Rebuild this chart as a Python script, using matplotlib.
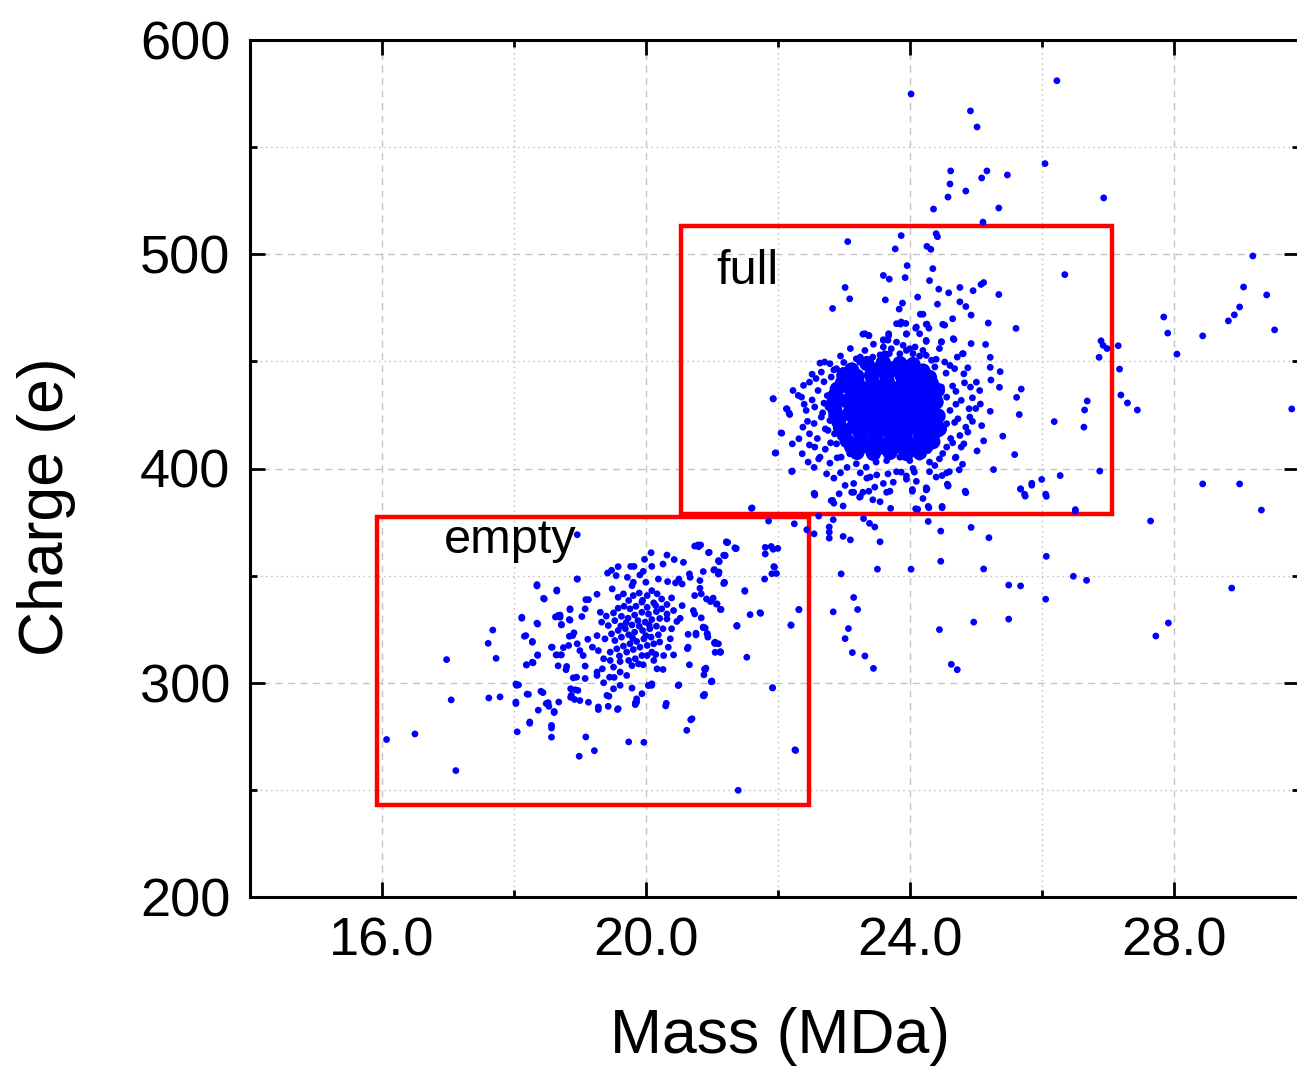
import matplotlib.pyplot as plt
import matplotlib as mpl
import numpy as np
from matplotlib.patches import Rectangle
from matplotlib.ticker import MultipleLocator, FormatStrFormatter

mpl.rcParams.update({
    "font.family": "sans-serif",
    "font.sans-serif": ["Liberation Sans", "DejaVu Sans"],
})

# (mass MDa, charge e)
outlier_pts = [
    (24.02, 574.8), (26.23, 581.0), (24.92, 566.9), (25.02, 559.4), (26.05, 542.3),
    (24.62, 538.9), (25.17, 538.9), (25.09, 535.6), (25.48, 537.0), (24.61, 532.8),
    (24.85, 529.5), (24.58, 526.7), (26.94, 526.3), (24.36, 521.1), (25.35, 521.6),
    (25.11, 515.0),
    (29.20, 499.2), (29.06, 484.7), (29.41, 481.0), (29.00, 475.4), (28.92, 471.7),
    (28.83, 468.9), (29.53, 464.7), (27.85, 470.7), (27.91, 463.2), (28.44, 461.9),
    (28.05, 453.4), (27.18, 446.4), (27.20, 434.3), (27.30, 430.6), (27.45, 427.3),
    (29.79, 427.8), (28.44, 392.8), (29.00, 392.8), (29.33, 380.6), (27.65, 375.5),
    (28.88, 344.2), (27.92, 327.9), (27.73, 321.8),
]

between_pts = [
    (26.51, 380.8), (26.06, 388.0), (25.74, 388.0), (25.68, 390.5), (25.85, 393.1),
    (24.57, 392.7), (24.84, 389.4), (24.25, 391.0), (24.04, 390.2), (24.28, 382.3),
    (24.49, 382.3), (24.09, 381.2), (23.71, 381.4), (24.28, 375.3), (24.47, 370.8),
    (24.93, 372.5), (25.20, 367.7), (23.55, 365.8), (23.47, 372.7), (23.39, 374.4),
    (23.30, 376.6), (23.10, 366.7), (22.99, 368.3), (22.78, 367.5), (22.78, 370.3),
    (22.78, 372.7), (22.84, 376.1), (22.62, 377.8), (22.55, 369.5), (22.44, 371.4),
    (22.25, 374.2), (21.86, 375.5), (21.61, 381.6), (22.55, 388.4), (26.07, 359.0),
    (24.47, 356.7), (25.12, 353.1), (24.02, 353.0), (23.51, 353.0), (22.96, 350.8),
    (26.48, 349.7), (26.68, 347.8), (25.50, 345.6), (25.68, 345.2), (26.06, 339.0),
    (23.15, 339.8), (23.21, 334.2), (22.84, 333.1), (25.50, 329.7), (24.97, 328.3),
    (24.45, 324.8), (23.07, 325.3), (23.02, 320.6), (23.13, 314.1), (23.32, 312.5),
    (23.45, 306.7), (24.63, 308.6), (24.72, 306.1),
]

full_pts = [
    # sparse part inside the "full" box
    (23.87, 508.7), (24.40, 509.6), (24.42, 508.2), (23.06, 505.9), (23.78, 502.5),
    (24.26, 503.7), (24.32, 502.3), (23.96, 494.7), (24.35, 493.3), (23.60, 490.1),
    (23.69, 488.4), (23.93, 489.1), (24.30, 487.7), (26.35, 490.5), (23.02, 484.5),
    (23.09, 479.2), (24.44, 483.7), (24.59, 482.0), (24.76, 484.5), (24.96, 483.0),
    (25.08, 485.9), (25.12, 486.8), (25.35, 481.2), (23.63, 478.7), (23.89, 477.2),
    (24.12, 480.0), (24.42, 476.7), (24.76, 477.8), (24.85, 475.6), (22.83, 474.7),
    (23.84, 474.4), (24.16, 472.0), (24.20, 472.0), (24.93, 471.6), (24.65, 469.9),
    (23.86, 467.4), (23.94, 467.7), (24.26, 467.4), (24.29, 465.5), (24.53, 466.9),
    (25.19, 467.9), (25.61, 465.4), (24.09, 465.5), (23.29, 462.7), (23.38, 462.0),
    (23.68, 462.0), (23.95, 462.7), (23.60, 460.1), (23.67, 459.9), (24.25, 459.3),
    (24.48, 459.2), (24.67, 460.2), (25.15, 457.9), (26.90, 459.6), (26.93, 457.5),
    (26.99, 456.0), (27.16, 457.3), (24.81, 453.6), (26.87, 451.9), (25.22, 451.9),
    (25.22, 447.2), (25.37, 445.2), (25.23, 441.3), (25.36, 437.9), (25.69, 437.1),
    (25.62, 433.2), (26.69, 431.5), (26.65, 427.3), (25.66, 425.2), (26.19, 421.9),
    (26.64, 419.3), (25.07, 430.1), (25.22, 426.7), (25.09, 420.0), (25.12, 412.9),
    (25.41, 415.1), (25.02, 408.2), (25.59, 406.5), (25.27, 399.5), (26.00, 394.9),
    (25.85, 392.2), (25.68, 390.4), (25.75, 387.1), (26.07, 387.0), (26.28, 396.7),
    (26.88, 398.8), (26.51, 380.1), (24.85, 388.7), (24.58, 391.8), (24.26, 390.5),
    (24.75, 399.4), (24.69, 405.0), (24.56, 398.0), (24.29, 381.7), (24.49, 381.7),
    (24.12, 381.0), (23.70, 389.4), (22.56, 387.6), (22.83, 385.1), (22.99, 382.5),
    (23.15, 388.9), (23.25, 386.9), (23.38, 389.4), (23.44, 385.4), (21.60, 381.4),
    (21.93, 432.5), (22.14, 427.8), (22.18, 425.2), (22.05, 416.6), (21.97, 407.3),
    (22.22, 398.8),
    # speckled ring round the dense centre
    (21.93, 432.6), (22.06, 416.5), (21.96, 407.2), (22.21, 398.6), (22.13, 427.9),
    (22.17, 425.9), (22.22, 411.5), (22.37, 406.9), (22.32, 413.9), (22.36, 433.3),
    (22.39, 438.8), (22.48, 440.3), (22.43, 427.1), (22.38, 419.3), (22.48, 416.2),
    (22.56, 410.0), (22.56, 388.2), (22.46, 403.0), (22.64, 405.3), (22.74, 397.5),
    (22.79, 402.5), (22.81, 385.0), (22.85, 383.8), (22.93, 388.2), (23.12, 388.9),
    (23.02, 392.1), (23.24, 386.6), (23.29, 388.9), (23.47, 391.3), (23.65, 388.9),
    (23.75, 393.6), (23.67, 397.5), (23.87, 398.3), (24.07, 398.3), (24.04, 389.4),
    (24.25, 390.0), (24.49, 396.7), (24.58, 392.1), (24.38, 401.4), (24.45, 404.5),
    (24.56, 410.0), (24.70, 405.3), (24.78, 410.0), (24.82, 411.5), (24.76, 415.4),
    (24.85, 419.3), (24.73, 423.2), (24.91, 424.0), (24.90, 427.9), (24.78, 431.8),
    (24.92, 438.0), (25.01, 440.3), (25.06, 436.4), (24.82, 444.2), (24.68, 446.6),
    (24.61, 448.1), (24.53, 449.7), (24.33, 450.5), (24.38, 447.4), (24.20, 455.1),
    (24.25, 452.8), (24.05, 453.6), (24.00, 455.9), (23.90, 457.5), (23.95, 455.1),
    (23.69, 453.6), (23.72, 455.9), (23.60, 456.7), (23.44, 452.0), (23.34, 450.5),
    (23.32, 455.1), (23.19, 451.2), (23.24, 449.7), (23.09, 447.4), (22.99, 445.8),
    (22.89, 446.6), (22.79, 448.9), (22.71, 449.7), (22.64, 449.2), (22.66, 445.0),
    (22.81, 442.7), (22.61, 436.4), (22.56, 428.7), (22.66, 424.0), (22.76, 417.8),
    (22.89, 411.5), (22.96, 405.3), (23.09, 406.9), (23.19, 402.2), (23.34, 400.6),
    (23.49, 403.0), (23.65, 403.7), (23.85, 405.3), (24.00, 403.7), (24.15, 405.3),
    (24.28, 408.4), (24.38, 411.5), (24.45, 416.2), (24.56, 420.9), (24.61, 427.1),
    (24.56, 433.3), (24.48, 438.0), (24.35, 442.7), (24.23, 445.8), (24.08, 447.4),
    (23.24, 442.7), (23.09, 441.9), (22.94, 439.6), (22.81, 434.9), (22.76, 428.7),
    (22.79, 422.4), (22.86, 416.2), (23.02, 411.5), (22.23, 436.4), (22.31, 434.1),
    (24.10, 466.0), (24.15, 462.9), (24.25, 467.3), (24.50, 467.3), (23.80, 467.6),
    (23.87, 468.4), (23.68, 462.9), (23.95, 462.9), (24.08, 456.7), (24.25, 459.8),
    (24.48, 459.0), (24.66, 460.6), (24.80, 453.6), (24.93, 458.3), (23.32, 462.9),
    (23.38, 462.1), (23.60, 459.8), (23.62, 453.6), (22.52, 444.0), (22.45, 422.0),
    (22.70, 430.5), (22.60, 414.0), (22.72, 409.0), (22.95, 398.0), (23.40, 396.0),
    (23.95, 395.0), (24.30, 398.5), (24.65, 412.0), (24.70, 436.0), (24.95, 433.0),
    (24.88, 447.0), (22.55, 400.5), (23.55, 384.5), (24.20, 386.0),
    (22.70, 440.5), (22.75, 434.0), (22.68, 426.0), (22.72, 418.5), (22.80, 412.0),
    (22.90, 405.0), (23.05, 400.5), (23.25, 398.0), (23.50, 397.0), (23.80, 398.5),
    (24.05, 400.0), (24.30, 403.0), (24.50, 407.0), (24.62, 414.0), (24.68, 421.5),
    (24.70, 430.0), (24.65, 438.5), (24.55, 444.5), (24.40, 451.0), (24.15, 452.5),
    (23.85, 453.5), (23.55, 453.0), (23.25, 452.0), (23.00, 449.5), (22.85, 446.0),
    (22.58, 442.0), (22.52, 432.0), (22.55, 421.0), (22.62, 404.5), (22.85, 395.5),
    (23.15, 393.0), (23.60, 393.0), (24.10, 394.0), (24.40, 396.0), (24.80, 402.0),
    (24.88, 417.0), (24.95, 422.0), (24.83, 440.0), (24.72, 452.0), (24.45, 456.0),
    (23.80, 459.0), (23.45, 458.0), (23.10, 456.0), (22.95, 452.5), (22.40, 430.0),
    (22.48, 411.0), (23.35, 395.5), (23.95, 396.5), (24.60, 398.5), (25.00, 428.0),
]

# dense centre of the full population, drawn with bigger dots
core_pts = [
    (23.35, 449.0), (23.60, 449.5), (23.85, 449.0), (24.05, 448.5),
    (23.12, 446.0), (23.48, 446.0), (23.74, 446.5), (23.96, 446.0), (24.20, 445.5),
    (23.00, 443.5), (23.20, 443.0), (23.42, 443.5), (23.65, 443.0), (23.88, 443.5),
    (24.10, 443.0), (24.30, 442.5),
    (22.98, 440.0), (23.20, 440.5), (23.44, 440.0), (23.66, 440.5), (23.90, 440.0),
    (24.12, 440.5), (24.33, 439.5),
    (22.90, 437.0), (23.10, 437.5), (23.32, 437.0), (23.55, 437.5), (23.78, 437.0),
    (24.00, 437.5), (24.22, 437.0), (24.42, 436.5),
    (22.87, 434.0), (23.20, 434.5), (23.42, 434.0), (23.65, 434.5), (23.88, 434.0),
    (24.10, 434.5), (24.32, 434.0),
    (22.85, 431.0), (23.05, 431.5), (23.27, 431.0), (23.50, 431.5), (23.72, 431.0),
    (23.95, 431.5), (24.18, 431.0), (24.40, 431.0),
    (22.86, 428.0), (23.18, 428.5), (23.40, 428.0), (23.62, 428.5), (23.86, 428.0),
    (24.08, 428.5), (24.30, 428.0),
    (22.88, 425.0), (23.08, 425.5), (23.30, 425.0), (23.53, 425.5), (23.76, 425.0),
    (23.98, 425.5), (24.20, 425.0), (24.43, 424.5),
    (22.92, 422.0), (23.20, 422.5), (23.42, 422.0), (23.65, 422.5), (23.88, 422.0),
    (24.10, 422.5), (24.35, 422.0),
    (22.95, 419.0), (23.15, 419.5), (23.37, 419.0), (23.60, 419.5), (23.83, 419.0),
    (24.05, 419.5), (24.27, 419.0), (24.45, 418.5),
    (23.00, 416.0), (23.25, 416.5), (23.48, 416.0), (23.70, 416.5), (23.92, 416.0),
    (24.15, 416.5), (24.35, 416.0),
    (23.05, 413.0), (23.27, 413.5), (23.50, 413.0), (23.72, 413.5), (23.95, 413.0),
    (24.17, 413.5), (24.35, 412.5),
    (23.12, 410.0), (23.35, 410.5), (23.60, 410.0), (23.82, 410.5), (24.05, 410.0),
    (24.25, 410.5),
    (23.20, 407.5), (23.45, 407.0), (23.70, 407.5), (23.95, 407.0), (24.15, 407.5),
]

empty_pts = [
    (16.07, 273.5), (16.50, 276.1), (17.12, 259.0), (16.98, 310.8), (17.05, 292.0),
    (17.68, 324.6), (17.61, 318.4), (17.73, 311.4), (17.62, 292.9), (17.79, 293.4),
    (18.04, 298.8), (18.07, 299.0), (18.03, 290.3), (18.05, 277.1), (18.22, 294.6),
    (18.24, 281.1), (18.44, 295.4), (18.37, 287.2), (18.49, 290.3), (18.53, 289.0),
    (18.61, 286.1), (18.57, 278.9), (18.57, 274.6), (18.68, 291.0), (18.12, 330.1),
    (18.36, 327.4), (18.35, 345.2), (18.46, 339.1), (18.16, 321.7), (18.28, 318.9),
    (18.36, 312.8), (18.19, 308.3), (18.29, 309.3), (18.57, 316.6), (18.65, 342.8),
    (18.63, 330.7), (18.70, 331.6), (18.72, 327.0), (18.85, 334.1), (18.85, 329.2),
    (18.64, 313.0), (18.72, 313.0), (18.75, 316.4), (18.84, 321.7), (18.91, 323.3),
    (18.96, 348.4), (18.96, 369.1), (18.67, 307.9), (18.79, 306.1), (18.86, 293.2),
    (18.93, 296.7), (19.00, 291.7), (19.13, 290.9), (18.90, 302.3), (19.08, 302.0),
    (18.99, 265.7), (19.22, 268.3), (19.09, 274.7), (19.28, 287.5), (19.44, 293.7),
    (19.43, 289.0), (19.57, 287.5), (19.74, 272.4), (19.97, 272.2), (19.84, 290.6),
    (19.86, 292.5), (20.04, 298.7), (20.09, 298.8), (20.30, 289.2), (20.49, 298.7),
    (20.62, 277.8), (20.68, 282.7), (20.87, 294.0), (20.99, 300.5), (20.90, 306.1),
    (21.05, 314.2), (21.13, 314.2), (20.63, 315.9), (20.76, 322.3), (20.87, 325.7),
    (20.93, 322.8), (21.05, 318.3), (21.38, 326.4), (21.53, 311.9), (21.58, 331.8),
    (21.74, 332.4), (21.50, 342.7), (21.18, 346.3), (21.11, 351.7), (21.03, 352.6),
    (21.11, 356.5), (20.95, 360.7), (21.18, 359.5), (21.23, 365.4), (21.36, 362.6),
    (20.74, 363.8), (20.80, 363.5), (21.81, 363.2), (21.93, 362.3), (21.81, 360.1),
    (21.94, 354.2), (21.91, 350.9), (21.80, 348.4), (22.20, 326.8), (22.32, 334.1),
    (22.26, 268.7), (21.40, 249.8), (21.92, 297.6), (20.88, 303.7),
    (22.32, 334.2), (22.20, 327.0), (21.92, 297.7), (22.27, 268.4), (21.95, 354.0),
    (21.98, 351.0), (21.90, 363.6), (22.00, 362.7), (21.35, 363.0), (21.22, 365.8),
    (21.20, 359.5), (21.10, 357.0), (21.10, 350.8), (21.19, 346.6), (21.50, 343.0),
    (21.02, 339.5), (21.07, 336.7), (21.13, 334.2), (21.73, 332.7), (21.38, 326.6),
    (20.87, 326.0), (20.93, 323.0), (21.04, 318.6), (21.13, 314.5), (20.89, 306.4),
    (21.00, 300.5), (20.88, 293.9),
    # middle ring
    (20.79, 364.3), (20.83, 364.3), (21.24, 365.5), (21.37, 362.7), (20.96, 360.9),
    (21.20, 359.3), (21.11, 356.8), (20.08, 360.7), (19.98, 357.6), (20.32, 359.6),
    (20.43, 357.5), (20.57, 356.2), (20.26, 355.4), (20.09, 354.3), (19.96, 352.0),
    (19.77, 354.3), (19.82, 354.3), (19.58, 354.2), (19.48, 352.5), (19.42, 351.2),
    (19.55, 350.0), (19.72, 349.2), (19.91, 350.3), (20.19, 348.4), (20.33, 347.2),
    (20.50, 348.4), (20.66, 350.8), (20.67, 349.2), (20.82, 347.7), (20.87, 351.9),
    (21.04, 352.8), (21.10, 350.8), (21.19, 346.9), (20.82, 344.1), (20.84, 341.5),
    (20.55, 346.1), (20.45, 346.6), (20.00, 346.9), (19.81, 346.9), (19.79, 345.3),
    (19.49, 343.8), (19.26, 341.3), (19.09, 338.8), (18.96, 348.4), (18.65, 343.3),
    (18.35, 345.8), (18.45, 339.4), (18.12, 330.6), (18.35, 327.8), (18.18, 322.0),
    (18.28, 319.3), (18.36, 313.0), (18.19, 308.4), (18.28, 309.6), (18.58, 316.6),
    (18.65, 313.0), (18.71, 313.0), (18.85, 334.5), (18.67, 331.4), (18.70, 330.6),
    (18.84, 329.5), (18.72, 327.2), (19.08, 334.5), (19.03, 330.9), (19.13, 338.8),
    (18.89, 322.0), (18.83, 317.4), (18.96, 318.2), (19.00, 315.0), (19.12, 320.3),
    (19.05, 312.7), (19.19, 316.6), (18.80, 307.6), (18.95, 302.6), (19.08, 307.8),
    (19.26, 305.0), (19.26, 303.4), (19.34, 306.5), (19.51, 307.3), (19.45, 302.6),
    (19.52, 302.5), (19.61, 305.0), (19.71, 303.4), (19.79, 308.0), (19.89, 308.8),
    (19.96, 308.4), (20.04, 298.8), (20.09, 299.5), (20.17, 306.5), (20.26, 306.2),
    (20.15, 313.2), (20.02, 312.7), (19.36, 300.0), (19.41, 294.1), (19.51, 297.2),
    (19.61, 298.8), (19.79, 297.5), (19.86, 291.0), (19.84, 289.8), (19.94, 294.9),
    (18.86, 297.2), (18.97, 296.4), (18.87, 294.1), (18.92, 292.2), (18.52, 290.7),
    (18.61, 286.6), (18.41, 296.0), (18.20, 294.7), (18.03, 291.0), (18.03, 299.4),
    (18.24, 281.7), (18.57, 280.1), (19.28, 288.7), (19.58, 287.9), (20.31, 290.4),
    (20.50, 299.0), (20.70, 283.2), (20.89, 294.6), (21.00, 300.8), (20.91, 306.8),
    (20.66, 308.4), (20.42, 313.0), (20.64, 316.6), (20.76, 323.1), (20.90, 325.6),
    (20.94, 321.3), (21.05, 318.9), (21.10, 318.2), (21.13, 314.3), (21.38, 326.7),
    (20.84, 330.3), (20.64, 322.6), (20.52, 330.1), (20.47, 328.6), (20.32, 329.8),
    (20.39, 325.2), (20.42, 333.7), (20.55, 336.0), (20.72, 333.7), (20.74, 332.1),
    (20.92, 339.1), (20.98, 337.9), (21.08, 336.8), (21.14, 334.2), (20.74, 340.7),
    # dense centre
    (19.58, 339.9), (19.66, 341.5), (19.74, 338.4), (19.81, 340.7), (19.90, 341.9),
    (20.02, 340.7), (20.09, 343.0), (20.17, 341.5), (20.24, 339.1), (20.12, 337.3),
    (20.02, 335.2), (19.94, 337.6), (19.85, 335.7), (19.76, 334.5), (19.67, 335.7),
    (19.58, 334.8), (19.51, 332.6), (19.40, 331.1), (19.33, 328.3), (19.43, 326.7),
    (19.53, 329.0), (19.63, 331.0), (19.73, 330.1), (19.83, 331.6), (19.94, 332.9),
    (20.04, 332.1), (20.16, 333.2), (20.24, 334.5), (20.32, 332.1), (20.21, 330.0),
    (20.09, 329.5), (19.99, 328.3), (19.90, 326.4), (19.79, 327.0), (19.69, 325.2),
    (19.58, 324.4), (19.48, 322.8), (19.38, 320.5), (19.53, 319.7), (19.63, 321.3),
    (19.74, 322.4), (19.83, 323.6), (19.95, 324.4), (20.06, 325.2), (20.16, 326.4),
    (20.26, 325.2), (20.19, 322.4), (20.08, 321.3), (19.97, 320.5), (19.86, 319.3),
    (19.76, 318.2), (19.66, 317.1), (19.56, 315.8), (19.46, 314.3), (19.71, 314.3),
    (19.81, 315.5), (19.91, 316.6), (20.02, 317.4), (20.12, 318.2), (20.21, 319.0),
    (20.09, 314.3), (19.94, 312.7), (19.84, 311.2), (19.74, 310.4), (19.61, 309.9),
    (19.46, 310.4), (19.36, 311.2), (19.28, 315.0), (19.26, 322.0), (19.31, 332.9),
    (20.12, 310.4), (20.27, 312.7), (20.34, 316.6), (20.37, 320.5), (20.39, 339.6),
    (20.32, 336.5), (19.88, 329.0), (20.05, 327.0), (19.70, 328.0), (20.00, 322.0),
    (19.80, 320.8), (19.62, 326.5), (20.15, 336.0), (19.95, 338.5), (19.60, 312.5),
]

full_box = (20.53, 378.8, 27.06, 513.2)    # x0, y0, x1, y1
empty_box = (15.92, 243.0, 22.47, 377.4)


def xy(pts):
    arr = np.array(pts)
    return arr[:, 0], arr[:, 1]


fig = plt.figure(figsize=(12.97, 10.77), dpi=100)
ax = fig.add_axes([250 / 1297, 180 / 1077, 1049 / 1297, 857 / 1077])

blue = "#0000FF"
for pts in (outlier_pts, between_pts, full_pts, empty_pts):
    mx, ch = xy(pts)
    ax.scatter(mx, ch, s=24, color=blue, edgecolors="none", zorder=3)
mx, ch = xy(core_pts)
ax.scatter(mx, ch, s=120, color=blue, edgecolors="none", zorder=3)

for x0, y0, x1, y1 in (full_box, empty_box):
    ax.add_patch(Rectangle((x0, y0), x1 - x0, y1 - y0, fill=False,
                           edgecolor="#FF0000", lw=3.2, zorder=2))

ax.text(21.06, 486.0, "full", fontsize=35, ha="left", va="baseline", zorder=4)
ax.text(16.94, 360.6, "empty", fontsize=35, ha="left", va="baseline", zorder=4)

ax.set_xlim(14.0, 29.9)
ax.set_ylim(200, 600)
ax.xaxis.set_major_locator(MultipleLocator(4))
ax.xaxis.set_minor_locator(MultipleLocator(2))
ax.xaxis.set_major_formatter(FormatStrFormatter("%.1f"))
ax.yaxis.set_major_locator(MultipleLocator(100))
ax.yaxis.set_minor_locator(MultipleLocator(50))

ax.grid(which="major", color="#c4c4c4", lw=1.0, ls=(0, (5, 4)), zorder=0)
ax.grid(which="minor", color="#c4c4c4", lw=1.0, ls=(0, (1.2, 2.5)), zorder=0)
ax.set_axisbelow(True)

for sp in ax.spines.values():
    sp.set_linewidth(2.2)
ax.tick_params(which="both", direction="in", top=True, right=True, width=2.0)
ax.tick_params(which="major", length=11, labelsize=39, pad=14)
ax.tick_params(which="minor", length=5)

ax.set_xlabel("Mass (MDa)", fontsize=45)
ax.set_ylabel("Charge (e)", fontsize=45)
ax.xaxis.set_label_coords(0.505, -0.128)
ax.yaxis.set_label_coords(-0.166, 0.455)

fig.savefig("out.png", dpi=100)
